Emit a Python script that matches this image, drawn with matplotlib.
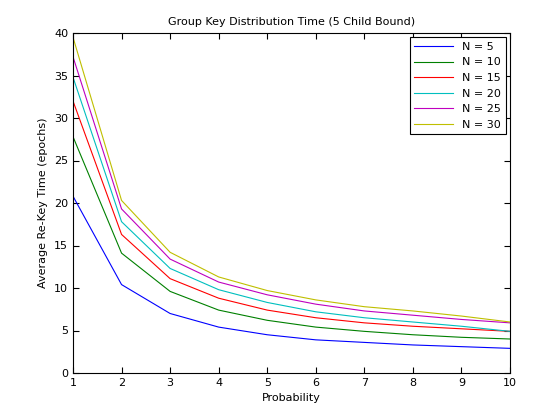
import matplotlib
matplotlib.use("Agg")
import matplotlib.pyplot as plt

prob = [1, 2, 3, 4, 5, 6, 7, 8, 9, 10]
labels = ["N = 5", "N = 10", "N = 15", "N = 20", "N = 25", "N = 30"]
series = [
    [20.8, 10.4, 7.0, 5.4, 4.5, 3.9, 3.6, 3.3, 3.1, 2.9],
    [27.8, 14.1, 9.6, 7.4, 6.2, 5.4, 4.9, 4.5, 4.2, 4.0],
    [32.0, 16.3, 11.1, 8.8, 7.4, 6.5, 5.9, 5.5, 5.2, 4.9],
    [34.8, 17.8, 12.3, 9.8, 8.3, 7.2, 6.5, 6.0, 5.5, 4.9],
    [37.2, 19.3, 13.4, 10.7, 9.2, 8.1, 7.3, 6.8, 6.3, 5.9],
    [39.5, 20.3, 14.2, 11.3, 9.7, 8.6, 7.8, 7.3, 6.7, 6.0],
]
colors = ["#0000ff", "#008000", "#ff0000", "#00bfbf", "#bf00bf", "#bfbf00"]

fig = plt.figure(figsize=(5.6, 4.2), dpi=100)
ax = fig.add_axes([73/560, 1-373/420, 437/560, 340/420])
for y, l, c in zip(series, labels, colors):
    ax.plot(prob, y, color=c, lw=0.8, label=l)
ax.set_xlim(1, 10)
ax.set_ylim(0, 40)
ax.set_xticks(range(1, 11))
ax.set_yticks(range(0, 41, 5))
ax.tick_params(direction="in", labelsize=8, top=True, right=True, length=4)
ax.set_xlabel("Probability", fontsize=8)
ax.set_ylabel("Average Re-Key Time (epochs)", fontsize=8)
ax.set_title("Group Key Distribution Time (5 Child Bound)", fontsize=8)
leg = ax.legend(loc="upper right", fontsize=8, fancybox=False, framealpha=1,
                edgecolor="black", handlelength=3.5, borderaxespad=0.4)
leg.get_frame().set_linewidth(0.8)
fig.savefig("out.png")
